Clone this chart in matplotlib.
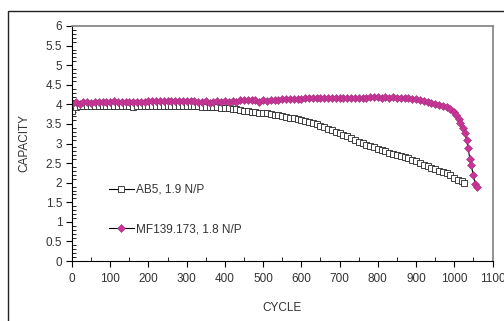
import matplotlib
matplotlib.use("Agg")
import matplotlib.pyplot as plt
from matplotlib.patches import Rectangle
from matplotlib.ticker import MultipleLocator, FuncFormatter

plt.rcParams['font.family'] = ['Liberation Sans', 'DejaVu Sans']

ab5_cycle = list(range(0, 1030, 10)) + [1025]
ab5_cap = [3.82, 3.93, 3.95, 3.95, 3.96, 3.95, 3.96, 3.96, 3.95, 3.96,
           3.96, 3.96, 3.95, 3.96, 3.96, 3.95, 3.94, 3.95, 3.95, 3.96,
           3.96, 3.96, 3.95, 3.95, 3.96, 3.96, 3.96, 3.95, 3.96, 3.96,
           3.96, 3.95, 3.95, 3.95, 3.94, 3.94, 3.93, 3.93, 3.92, 3.91,
           3.91, 3.90, 3.89, 3.88, 3.86, 3.84, 3.82, 3.81, 3.80, 3.79,
           3.78, 3.77, 3.76, 3.74, 3.72, 3.70, 3.68, 3.66, 3.64, 3.62,
           3.60, 3.58, 3.56, 3.53, 3.49, 3.45, 3.42, 3.38, 3.34, 3.30,
           3.26, 3.22, 3.18, 3.14, 3.09, 3.05, 3.01, 2.97, 2.94, 2.90,
           2.87, 2.84, 2.80, 2.77, 2.74, 2.70, 2.68, 2.65, 2.62, 2.58,
           2.55, 2.51, 2.46, 2.43, 2.38, 2.34, 2.30, 2.27, 2.24, 2.20,
           2.12, 2.08, 2.04, 1.99]

mf_cycle = list(range(0, 1000, 10)) + [999, 1005, 1012, 1016, 1022, 1028, 1032,
                                        1036, 1041, 1045, 1049, 1055, 1060]
mf_cap = [4.00, 4.06, 4.02, 4.05, 4.07, 4.04, 4.06, 4.05, 4.06, 4.06,
          4.06, 4.08, 4.07, 4.07, 4.07, 4.07, 4.07, 4.07, 4.07, 4.07,
          4.08, 4.08, 4.08, 4.08, 4.08, 4.08, 4.08, 4.08, 4.08, 4.08,
          4.08, 4.08, 4.09, 4.07, 4.05, 4.08, 4.04, 4.07, 4.09, 4.06,
          4.08, 4.05, 4.09, 4.07, 4.10, 4.10, 4.10, 4.10, 4.10, 4.07,
          4.10, 4.08, 4.11, 4.12, 4.12, 4.13, 4.13, 4.13, 4.13, 4.13,
          4.14, 4.15, 4.15, 4.15, 4.15, 4.15, 4.16, 4.16, 4.16, 4.16,
          4.16, 4.17, 4.17, 4.17, 4.17, 4.17, 4.17, 4.17, 4.18, 4.18,
          4.18, 4.17, 4.18, 4.17, 4.18, 4.16, 4.17, 4.15, 4.16, 4.14,
          4.13, 4.11, 4.09, 4.07, 4.04, 4.01, 3.99, 3.96, 3.92, 3.87,
          3.81, 3.73, 3.63, 3.52, 3.39, 3.26, 3.09, 2.89, 2.60, 2.45,
          2.20, 1.97, 1.88]

labels = ["AB5, 1.9 N/P", "MF139.173, 1.8 N/P"]

fig = plt.figure(figsize=(5.04, 3.21), dpi=100)
fig.patches.append(Rectangle((8 / 504, -0.5), 2, (321 - 11) / 321 + 0.5,
                             transform=fig.transFigure, fill=False,
                             edgecolor='#222222', linewidth=1.0))
ax = fig.add_axes([72 / 504, 1 - 261 / 321, (492.5 - 72) / 504, (261 - 26) / 321])

ax.plot(ab5_cycle, ab5_cap, color='black', linewidth=0.8, marker='s',
        markersize=4.0, markerfacecolor='white', markeredgecolor='#222222',
        markeredgewidth=0.6, label=labels[0])
ax.plot(mf_cycle, mf_cap, color='black', linewidth=0.8, marker='D',
        markersize=3.6, markerfacecolor='#CC3399', markeredgecolor='#993377',
        markeredgewidth=0.4, label=labels[1])

ax.set_xlim(0, 1100)
ax.set_ylim(0, 6)
ax.xaxis.set_major_locator(MultipleLocator(100))
ax.xaxis.set_minor_locator(MultipleLocator(50))
ax.yaxis.set_major_locator(MultipleLocator(0.5))
ax.yaxis.set_minor_locator(MultipleLocator(0.1))
ax.yaxis.set_major_formatter(FuncFormatter(lambda v, p: ('%g' % v)))
ax.tick_params(which='major', direction='out', length=4, width=0.8,
               labelsize=8.5, colors='black', pad=3)
ax.tick_params(which='minor', direction='in', length=3, width=0.6)
ax.tick_params(axis='x', labelcolor='#333333', pad=5)
ax.tick_params(axis='y', labelcolor='#333333')

for s in ['top', 'right']:
    ax.spines[s].set_color('#808080')
    ax.spines[s].set_linewidth(1.2)
for s in ['left', 'bottom']:
    ax.spines[s].set_color('black')
    ax.spines[s].set_linewidth(0.8)

ax.set_xlabel('CYCLE', fontsize=8.5, color='#333333', labelpad=12)
ax.set_ylabel('CAPACITY', fontsize=8.5, color='#333333', labelpad=11)

leg = ax.legend(loc='center left', bbox_to_anchor=(0.088, 0.219), frameon=False,
                fontsize=8.5, handlelength=2.1, handletextpad=0.2,
                labelspacing=2.3, borderpad=0, borderaxespad=0)
for t in leg.get_texts():
    t.set_color('#333333')

fig.savefig('out.png', dpi=100)
